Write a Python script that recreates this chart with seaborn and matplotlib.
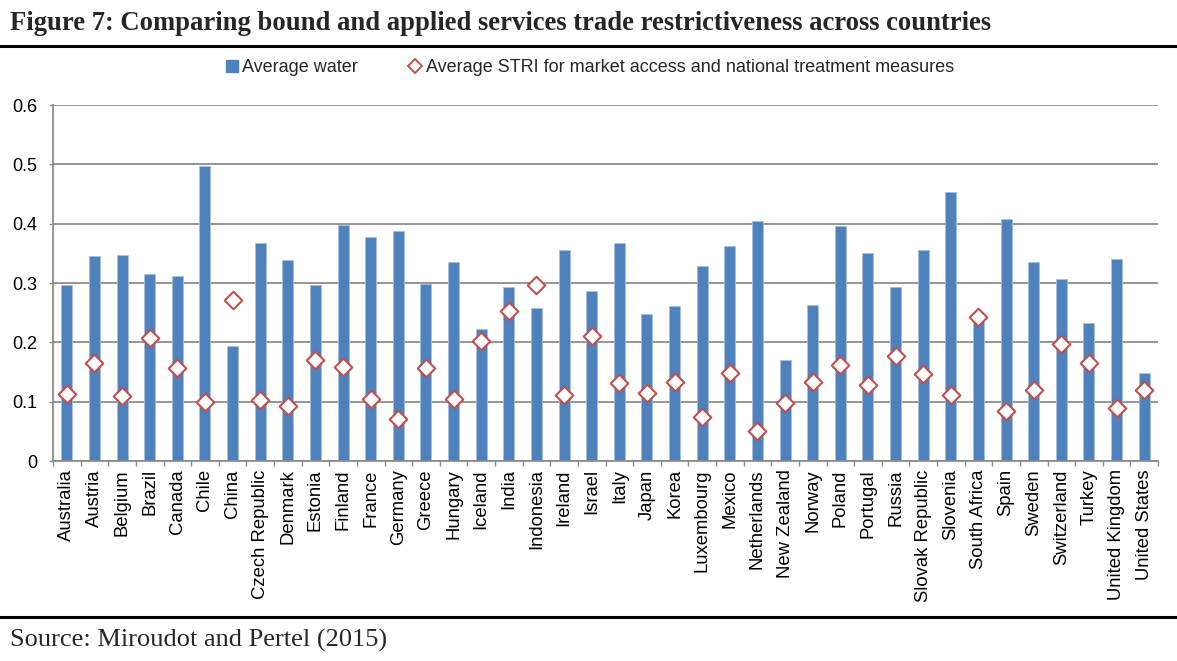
import matplotlib
matplotlib.use("Agg")
import matplotlib.pyplot as plt
from matplotlib.lines import Line2D
import numpy as np
import pandas as pd
import seaborn as sns

countries = [
    "Australia", "Austria", "Belgium", "Brazil", "Canada", "Chile", "China",
    "Czech Republic", "Denmark", "Estonia", "Finland", "France", "Germany",
    "Greece", "Hungary", "Iceland", "India", "Indonesia", "Ireland", "Israel",
    "Italy", "Japan", "Korea", "Luxembourg", "Mexico", "Netherlands",
    "New Zealand", "Norway", "Poland", "Portugal", "Russia", "Slovak Republic",
    "Slovenia", "South Africa", "Spain", "Sweden", "Switzerland", "Turkey",
    "United Kingdom", "United States",
]

avg_water = [
    0.297, 0.346, 0.348, 0.315, 0.312, 0.498, 0.194,
    0.367, 0.338, 0.297, 0.398, 0.378, 0.387,
    0.299, 0.335, 0.222, 0.294, 0.258, 0.356, 0.287,
    0.367, 0.248, 0.261, 0.328, 0.362, 0.405,
    0.170, 0.263, 0.396, 0.351, 0.294, 0.356,
    0.454, 0.238, 0.408, 0.335, 0.307, 0.232,
    0.340, 0.149,
]

avg_stri = [
    0.113, 0.165, 0.110, 0.208, 0.157, 0.100, 0.272,
    0.102, 0.092, 0.170, 0.159, 0.104, 0.071,
    0.157, 0.104, 0.203, 0.252, 0.296, 0.112, 0.211,
    0.131, 0.115, 0.133, 0.074, 0.149, 0.051,
    0.097, 0.133, 0.162, 0.128, 0.177, 0.146,
    0.112, 0.242, 0.084, 0.120, 0.198, 0.165,
    0.089, 0.120,
]

y_ticks = [0, 0.1, 0.2, 0.3, 0.4, 0.5, 0.6]
y_tick_labels = ["0", "0.1", "0.2", "0.3", "0.4", "0.5", "0.6"]

title = "Figure 7: Comparing bound and applied services trade restrictiveness across countries"
source = "Source: Miroudot and Pertel (2015)"
bar_label = "Average water"
point_label = "Average STRI for market access and national treatment measures"

df = pd.DataFrame({"country": countries, "water": avg_water, "stri": avg_stri})

sns.set_theme(style="white")
plt.rcParams["font.family"] = ["Liberation Sans", "DejaVu Sans"]

BLUE = "#4F81BD"
BLUE_EDGE = "#A7BFDE"
RED = "#C0504D"
GRID = "#8C8C8C"

W, H = 1177, 661
fig = plt.figure(figsize=(W / 100, H / 100), dpi=100)
fig.patch.set_facecolor("white")

left, right, top, bottom = 53, 1158, 105, 461
ax = fig.add_axes([left / W, 1 - bottom / H, (right - left) / W, (bottom - top) / H])

sns.barplot(data=df, x="country", y="water", color=BLUE, width=0.4,
            saturation=1, ax=ax, zorder=2, edgecolor=BLUE_EDGE, linewidth=0.6)
sns.scatterplot(data=df, x="country", y="stri", marker="D", s=80,
                facecolor="white", edgecolor=RED, linewidth=1.5,
                ax=ax, zorder=3)

n = len(countries)
ax.set_xlim(-0.5, n - 0.5)
ax.set_ylim(0, 0.6)
ax.set_yticks(y_ticks)
ax.set_yticklabels(y_tick_labels, fontsize=13, color="black")
ax.yaxis.grid(True, color=GRID, linewidth=1.3, zorder=0)
ax.set_axisbelow(True)
ax.set_xlabel("")
ax.set_ylabel("")

ax.set_xticks(range(n))
ax.set_xticklabels(countries, rotation=90, fontsize=13.3, color="black")
ax.tick_params(axis="x", which="major", length=0, pad=6)
ax.set_xticks(np.arange(-0.5, n, 1.0), minor=True)
ax.tick_params(axis="x", which="minor", length=3.5, width=1, color=GRID, direction="out")
ax.tick_params(axis="y", which="major", length=3, width=1, color=GRID,
               direction="out", pad=8)
ax.tick_params(axis="both", bottom=True, left=True)
ax.xaxis.set_tick_params(which="minor", bottom=True)

for side in ("top", "right"):
    ax.spines[side].set_visible(False)
for side in ("left", "bottom"):
    ax.spines[side].set_visible(True)
    ax.spines[side].set_color(GRID)
    ax.spines[side].set_linewidth(1.3)

handles = [
    Line2D([], [], marker="s", linestyle="none", markersize=8.5,
           markerfacecolor=BLUE, markeredgecolor=BLUE, label=bar_label),
    Line2D([], [], marker="D", linestyle="none", markersize=7,
           markerfacecolor="white", markeredgecolor=RED, markeredgewidth=1.4,
           label=point_label),
]
fig.legend(handles=handles, loc="center", bbox_to_anchor=(0.501, 1 - 68 / H),
           ncol=2, frameon=False, fontsize=13, handlelength=0.7,
           handletextpad=0.25, columnspacing=2.8)

fig.text(10 / W, 1 - 23 / H, title, fontsize=19.2, fontweight="bold",
         family=["Liberation Serif", "DejaVu Serif"], va="center", ha="left")
fig.text(10 / W, 1 - 640 / H, source, fontsize=19,
         family=["Liberation Serif", "DejaVu Serif"], va="center", ha="left")

fig.add_artist(Line2D([0, 1], [1 - 46 / H, 1 - 46 / H], color="black",
                      linewidth=2.2, transform=fig.transFigure))
fig.add_artist(Line2D([0, 1], [1 - 617 / H, 1 - 617 / H], color="black",
                      linewidth=2.2, transform=fig.transFigure))

fig.savefig("out.png", dpi=100, facecolor="white")
